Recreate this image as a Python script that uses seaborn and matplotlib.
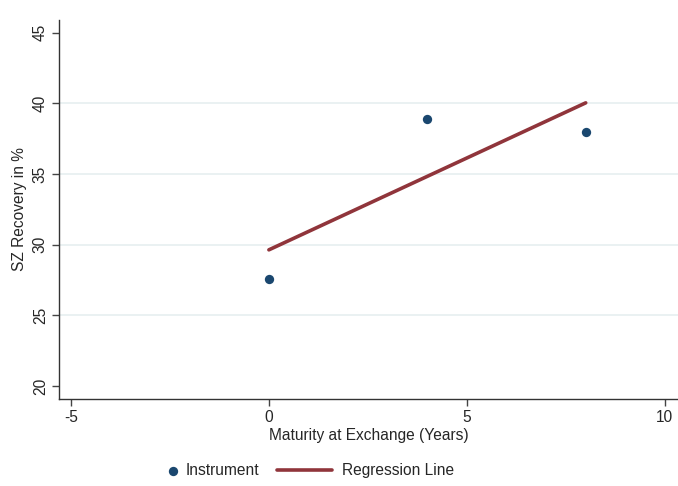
import pandas as pd
import numpy as np
import matplotlib.pyplot as plt
import seaborn as sns

# Data
maturity = [0, 4, 8]          # Maturity at Exchange (Years)
recovery = [27.6, 38.9, 38.0]  # SZ Recovery in %
x_ticks = [-5, 0, 5, 10]
y_ticks = [20, 25, 30, 35, 40, 45]

df = pd.DataFrame({'maturity': maturity, 'recovery': recovery})

sns.set_style('white')
plt.rcParams['font.family'] = ['Liberation Sans', 'DejaVu Sans']
plt.rcParams['axes.unicode_minus'] = False

fig = plt.figure(figsize=(6.78, 4.86), dpi=100)
ax = fig.add_axes([0.087, 0.179, 0.913, 0.78])

navy = '#1a476f'
maroon = '#90353b'
fs = 11.2

# horizontal grid only
for y in y_ticks[1:-1]:
    ax.axhline(y, color='#e6eff0', lw=1.2, zorder=0)

sns.scatterplot(data=df, x='maturity', y='recovery', ax=ax, color=navy,
                s=45, edgecolor=navy, linewidth=0, label='Instrument', zorder=3)
sns.regplot(data=df, x='maturity', y='recovery', ax=ax, scatter=False, ci=None,
            truncate=True, color=maroon, line_kws={'lw': 2.6},
            label='Regression Line')

ax.set_xlim(-5.3, 10.33)
ax.set_ylim(19.08, 45.9)
ax.set_xticks(x_ticks)
ax.set_yticks(y_ticks)
ax.set_yticklabels([str(t) for t in y_ticks], rotation=90, va='center')
ax.tick_params(axis='both', direction='out', length=5, width=1, color='#444444',
               labelsize=fs, bottom=True, left=True, pad=3)
ax.set_xlabel('Maturity at Exchange (Years)', fontsize=fs, labelpad=2)
ax.set_ylabel('SZ Recovery in %', fontsize=fs, labelpad=4)

for side in ['top', 'right']:
    ax.spines[side].set_visible(False)
for side in ['left', 'bottom']:
    ax.spines[side].set_color('#333333')
    ax.spines[side].set_linewidth(1)

handles, labels = ax.get_legend_handles_labels()
ax.get_legend().remove() if ax.get_legend() else None

leg1 = fig.legend([handles[0]], [labels[0]], loc='center left',
                  bbox_to_anchor=(0.244, 0.031), frameon=False, fontsize=fs,
                  handlelength=1.0, handletextpad=0.3, borderpad=0,
                  borderaxespad=0)
leg2 = fig.legend([handles[1]], [labels[1]], loc='center left',
                  bbox_to_anchor=(0.4086, 0.031), frameon=False, fontsize=fs,
                  handlelength=3.55, handletextpad=0.6, borderpad=0,
                  borderaxespad=0)

fig.savefig('out.png', dpi=100)
